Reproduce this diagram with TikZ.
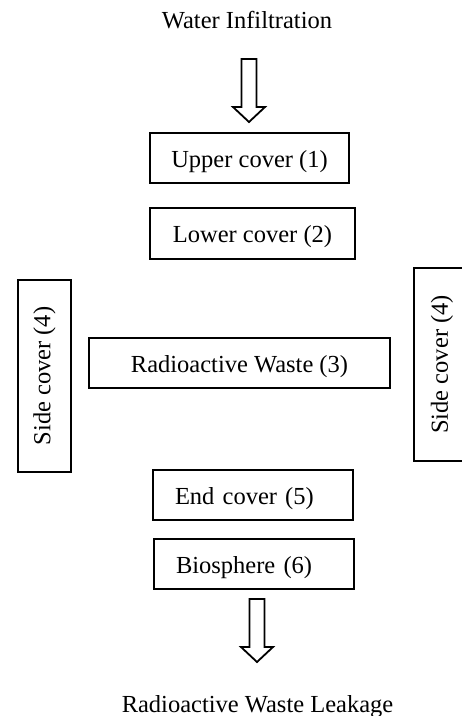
\documentclass[tikz,border=0pt]{standalone}
\usepackage{fontspec}
\setmainfont{Liberation Serif}
\usetikzlibrary{positioning}

\begin{document}
\begin{tikzpicture}[
x=1pt, y=-1pt,
every node/.style={
    font=\fontsize{24.5}{28}\selectfont
},
layer/.style={
    draw,
    rectangle,
    line width=2.2pt,
    inner sep=0pt,
    minimum height=50pt,
    text height=18pt,
    text depth=0pt
},
leftlayer/.style={
    layer,
    text width=156pt,
    align=left,
    inner xsep=22pt
},
side/.style={
    draw,
    rectangle,
    line width=2.2pt,
    rotate=90,
    inner sep=0pt
},
label/.style={
    anchor=base,
    inner sep=0pt
},
flow/.pic={
    \draw[line width=1.8pt, line join=miter]
        (-7.5,0) -- (-7.5,48) -- (-16,48) -- (0,63) -- (16,48) -- (7.5,48) -- (7.5,0) -- cycle;
}
]
\useasboundingbox (0,0) rectangle (462,716);
\clip (0,0) rectangle (462,716);

\node[label] (infil) at (247,28) {Water Infiltration};
\pic at (249,59) {flow};

\node[layer, minimum width=199pt] (upper) at (249.5,158) {Upper cover (1)};
\node[layer, minimum width=205pt, minimum height=51pt] (lower) at (252.5,233.5) {Lower cover (2)};
\node[layer, minimum width=301pt] (waste) at (239.5,363) {Radioactive Waste (3)};

\node[side, minimum width=192pt, minimum height=53pt] (sideL) at (44.5,376) {Side cover (4)};
\node[side, minimum width=193pt, minimum height=56pt] (sideR) at (442,364.5) {Side cover (4)};

\node[leftlayer, minimum width=200pt] (endc) at (253,495) {End cover (5)};
\node[leftlayer, minimum width=200pt] (bio) at (254,564) {Biosphere (6)};

\pic at (257,599) {flow};
\node[label] (leak) at (257.5,712) {Radioactive Waste Leakage};
\end{tikzpicture}
\end{document}
